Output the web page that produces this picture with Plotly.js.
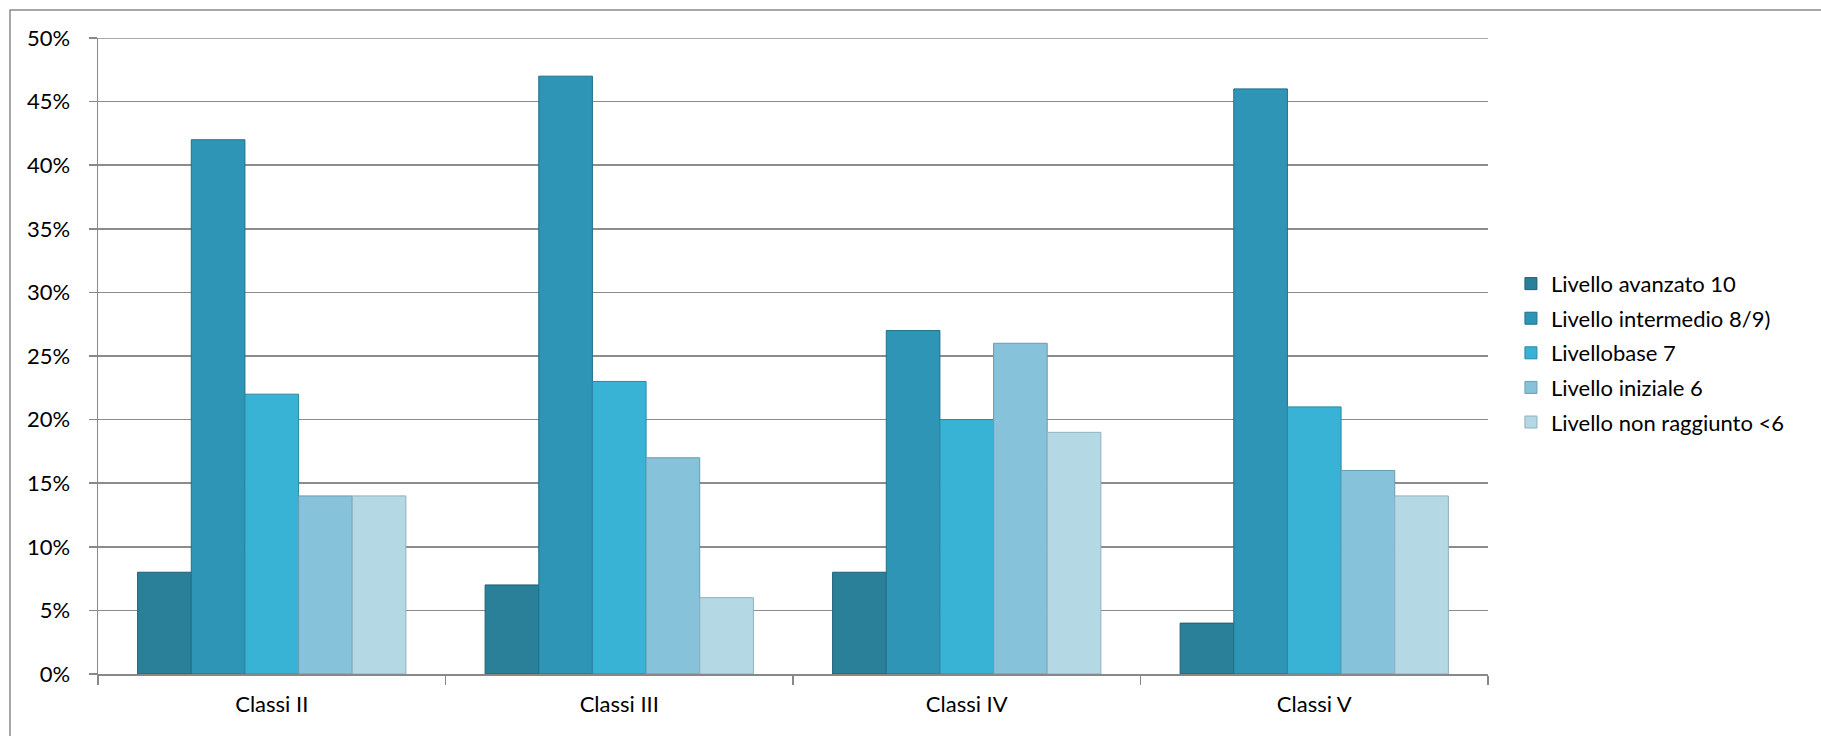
<!DOCTYPE html>
<html>
<head>
<meta charset="utf-8">
<script src="https://cdn.plot.ly/plotly-3.0.1.min.js"></script>
<style>
html,body{margin:0;padding:0;background:#fff;}
#chart{width:1821px;height:736px;}
</style>
</head>
<body>
<div id="chart"></div>
<script>
const categories = ["Classi II", "Classi III", "Classi IV", "Classi V"];
const seriesNames = ["Livello avanzato 10", "Livello intermedio 8/9)", "Livellobase 7", "Livello iniziale 6", "Livello non raggiunto <6"];
const avanzato = [0.08, 0.07, 0.08, 0.04];
const intermedio = [0.42, 0.47, 0.27, 0.46];
const base = [0.22, 0.23, 0.20, 0.21];
const iniziale = [0.14, 0.17, 0.26, 0.16];
const nonRaggiunto = [0.14, 0.06, 0.19, 0.14];
const yTickVals = [0, 0.05, 0.10, 0.15, 0.20, 0.25, 0.30, 0.35, 0.40, 0.45, 0.50];
const yTickText = ["0%", "5%", "10%", "15%", "20%", "25%", "30%", "35%", "40%", "45%", "50%"];

const seriesValues = [avanzato, intermedio, base, iniziale, nonRaggiunto];
const colors = ["#2A8099", "#2E95B6", "#38B3D6", "#86C2D9", "#B5D8E5"];
const lines = ["#1E5F73", "#21708A", "#2A88A4", "#6A9DB2", "#8FB0BE"];

const data = seriesValues.map((vals, i) => ({
  type: "bar",
  name: seriesNames[i],
  legendgroup: "g" + i,
  x: categories,
  y: vals,
  marker: {color: colors[i], line: {color: lines[i], width: 1}},
  hoverinfo: "x+y+name"
}));

const fam = "Lato, 'Open Sans', sans-serif";

const L = 98, R = 1488, T = 38, B = 674;
const PW = R - L, PH = B - T;

const layout = {
  width: 1821,
  height: 736,
  margin: {l: L, r: 1821 - R, t: T, b: 736 - B},
  paper_bgcolor: "#fff",
  plot_bgcolor: "#fff",
  barmode: "group",
  bargap: 0.228,
  bargroupgap: 0,
  font: {family: fam, size: 22, color: "#000"},
  showlegend: true,
  legend: {
    x: 1.0165, xanchor: "left",
    y: 0.505, yanchor: "middle",
    font: {family: fam, size: 22, color: "#000"},
    itemwidth: 30,
    traceorder: "grouped",
    tracegroupgap: 3,
    bgcolor: "rgba(0,0,0,0)"
  },
  xaxis: {
    type: "category",
    tickson: "boundaries",
    ticks: "outside",
    ticklen: 9,
    tickcolor: "#888",
    tickwidth: 1.5,
    ticklabelstandoff: 10,
    showline: true,
    linecolor: "#888",
    linewidth: 1.5,
    showgrid: false,
    tickfont: {family: fam, size: 22, color: "#000"}
  },
  yaxis: {
    range: [0, 0.5],
    tickvals: yTickVals,
    ticktext: yTickText,
    ticks: "outside",
    ticklen: 8,
    tickcolor: "#888",
    tickwidth: 1.5,
    ticklabelstandoff: 14,
    showline: true,
    linecolor: "#888",
    linewidth: 1.5,
    showgrid: true,
    gridcolor: "#8c8c8c",
    gridwidth: 1.5,
    zeroline: false,
    tickfont: {family: fam, size: 22, color: "#000"}
  },
  shapes: [{
    type: "rect",
    xref: "paper", yref: "paper",
    x0: (10 - L) / PW, x1: 1.6,
    y0: -0.5, y1: (B - 10) / PH,
    line: {color: "#8a8a8a", width: 1.5},
    fillcolor: "rgba(0,0,0,0)",
    layer: "below"
  }, {
    type: "line",
    xref: "paper", yref: "y",
    x0: 0, x1: 1, y0: yTickVals[yTickVals.length - 1], y1: yTickVals[yTickVals.length - 1],
    line: {color: "#8c8c8c", width: 1.5},
    layer: "below"
  }]
};

Plotly.newPlot("chart", data, layout, {displayModeBar: false, staticPlot: true});
</script>
</body>
</html>
